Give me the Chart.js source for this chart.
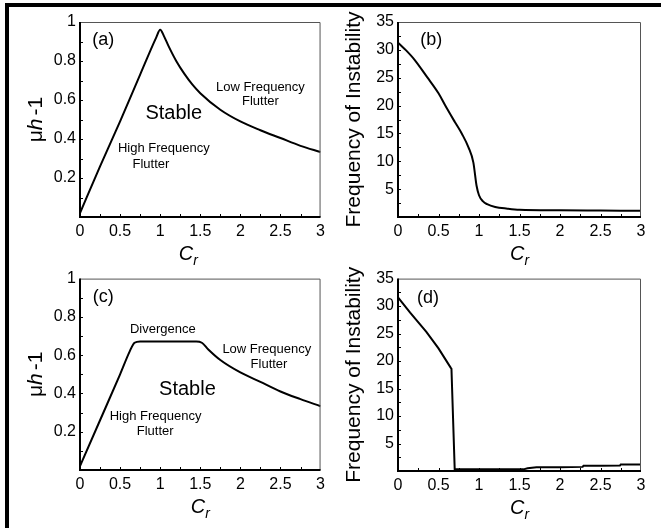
<!DOCTYPE html>
<html>
<head>
<meta charset="utf-8">
<script src="https://cdn.jsdelivr.net/npm/chart.js@4.4.1/dist/chart.umd.min.js"></script>
<style>
  body { margin: 0; background: #fff; width: 661px; height: 528px; overflow: hidden; position: relative; }
  canvas { position: absolute; }
  #frameL { position: absolute; left: 5px; top: 3px; width: 4px; height: 525px; background: #000; }
  #frameT { position: absolute; left: 5px; top: 3px; width: 656px; height: 4px; background: #000; }
</style>
</head>
<body>
<canvas id="pa" width="330" height="265" style="left:0;top:0"></canvas>
<canvas id="pb" width="331" height="265" style="left:330px;top:0"></canvas>
<canvas id="pc" width="330" height="263" style="left:0;top:265px"></canvas>
<canvas id="pd" width="331" height="263" style="left:330px;top:265px"></canvas>
<div id="frameL"></div><div id="frameT"></div>
<script>
const FONT = "'Liberation Sans', Arial, sans-serif";

// (a) stability boundary, uniform case
const crA = [0, 0.25, 0.5, 0.75, 0.95, 1.0, 1.05, 1.1, 1.2, 1.3, 1.4, 1.5, 1.75, 2.0, 2.25, 2.5, 2.75, 3.0];
const muA = [0.02, 0.26, 0.49, 0.73, 0.92, 0.96, 0.925, 0.88, 0.80, 0.735, 0.68, 0.635, 0.55, 0.49, 0.445, 0.405, 0.365, 0.333];

// (b) frequency of instability, uniform case
const crB = [0, 0.1, 0.2, 0.36, 0.5, 0.58, 0.7, 0.79, 0.87, 0.93, 0.97, 1.0, 1.05, 1.1, 1.2, 1.35, 1.5, 2.0, 2.5, 3.0];
const freqB = [31.3, 29.9, 28.3, 25.1, 22.2, 20.1, 17.1, 14.9, 12.5, 9.8, 5.6, 3.9, 2.8, 2.3, 1.8, 1.5, 1.3, 1.2, 1.15, 1.1];

// (c) stability boundary with divergence plateau
const crC = [0, 0.25, 0.5, 0.62, 0.68, 0.75, 1.0, 1.45, 1.52, 1.6, 1.75, 2.0, 2.25, 2.5, 2.75, 3.0];
const muC = [0.02, 0.26, 0.50, 0.62, 0.665, 0.672, 0.672, 0.672, 0.665, 0.63, 0.575, 0.51, 0.46, 0.41, 0.37, 0.333];

// (d) frequency of instability with divergence
const crD = [0, 0.15, 0.35, 0.5, 0.65, 0.66, 0.70, 1.0, 1.55, 1.6, 1.71, 2.0, 2.28, 2.29, 2.5, 2.74, 2.75, 3.0];
const freqD = [31.6, 28.8, 25.3, 22.3, 18.8, 18.6, 0.3, 0.3, 0.3, 0.5, 0.66, 0.7, 0.75, 0.95, 0.97, 1.0, 1.2, 1.2];

// tick setup
const xStep = 0.5, xMinor = 0.25;
const muStep = 0.2, muMinor = 0.1;
const freqStep = 5, freqMinor = 2.5;

// region labels (data coordinates)
const notesA = [
  { t: "(a)", x: 0.29, y: 0.91, s: 18 },
  { t: "Stable", x: 1.17, y: 0.53, s: 20 },
  { t: "Low Frequency", x: 2.25, y: 0.667, s: 13 },
  { t: "Flutter", x: 2.25, y: 0.592, s: 13 },
  { t: "High Frequency", x: 1.045, y: 0.351, s: 13 },
  { t: "Flutter", x: 0.885, y: 0.268, s: 13 }
];
const notesB = [{ t: "(b)", x: 0.41, y: 31.8, s: 18 }];
const notesC = [
  { t: "(c)", x: 0.29, y: 0.902, s: 18 },
  { t: "Divergence", x: 1.033, y: 0.737, s: 13 },
  { t: "Low Frequency", x: 2.33, y: 0.629, s: 13 },
  { t: "Flutter", x: 2.357, y: 0.554, s: 13 },
  { t: "Stable", x: 1.34, y: 0.423, s: 20 },
  { t: "High Frequency", x: 0.943, y: 0.278, s: 13 },
  { t: "Flutter", x: 0.937, y: 0.201, s: 13 }
];
const notesD = [{ t: "(d)", x: 0.37, y: 31.4, s: 18 }];

const muTitle = [
  { t: "\u03bc", f: "21px " + FONT },
  { t: "h", f: "italic 21px " + FONT },
  { t: "-1", f: "21px " + FONT, gap: 3 }
];
const freqTitle = [{ t: "Frequency of Instability", f: "21px " + FONT }];
const crTitle = [
  { t: "C", f: "italic 20px " + FONT },
  { t: "r", f: "italic 14px " + FONT, dy: 5 }
];

function drawRich(ctx, parts, cx, y) {
  let w = 0;
  parts.forEach(p => { ctx.font = p.f; w += ctx.measureText(p.t).width + (p.gap || 0); });
  let x = cx - w / 2;
  parts.forEach(p => {
    x += p.gap || 0;
    ctx.font = p.f;
    ctx.fillText(p.t, x, y + (p.dy || 0));
    x += ctx.measureText(p.t).width;
  });
}

function makePanel(id, xs, ys, yMax, yStep, yMinor, box, notes, yTitle, xShift, smooth) {
  const deco = {
    id: "deco",
    afterDraw(chart) {
      const ctx = chart.ctx, a = chart.chartArea;
      const sx = chart.scales.x, sy = chart.scales.y;
      ctx.save();
      // ticks pointing into the plot
      ctx.strokeStyle = "#000";
      ctx.lineWidth = 1;
      ctx.beginPath();
      for (let v = xMinor; v < 3 - 1e-6; v += xMinor) {
        const px = Math.round(sx.getPixelForValue(v)) + 0.5;
        ctx.moveTo(px, a.bottom);
        ctx.lineTo(px, a.bottom - 3);
      }
      for (let v = yMinor; v < yMax - 1e-6; v += yMinor) {
        const py = Math.round(sy.getPixelForValue(v)) + 0.5;
        ctx.moveTo(a.left, py);
        ctx.lineTo(a.left + 3, py);
      }
      ctx.stroke();
      // frame: thin grey top/right, heavy black left/bottom
      ctx.strokeStyle = "#555";
      ctx.lineWidth = 1;
      ctx.beginPath();
      ctx.moveTo(a.left, a.top + 0.5);
      ctx.lineTo(a.right - 0.5, a.top + 0.5);
      ctx.lineTo(a.right - 0.5, a.bottom);
      ctx.stroke();
      ctx.strokeStyle = "#000";
      ctx.lineWidth = 2;
      ctx.beginPath();
      ctx.moveTo(a.left, a.top);
      ctx.lineTo(a.left, a.bottom);
      ctx.lineTo(a.right, a.bottom);
      ctx.stroke();
      // region labels
      ctx.fillStyle = "#000";
      ctx.textAlign = "center";
      ctx.textBaseline = "middle";
      notes.forEach(n => {
        ctx.font = n.s + "px " + FONT;
        ctx.fillText(n.t, sx.getPixelForValue(n.x), sy.getPixelForValue(n.y));
      });
      // axis titles
      ctx.textAlign = "left";
      ctx.textBaseline = "alphabetic";
      drawRich(ctx, crTitle, (a.left + a.right) / 2 + xShift, a.bottom + 43);
      ctx.translate(a.left - 38, (a.top + a.bottom) / 2);
      ctx.rotate(-Math.PI / 2);
      drawRich(ctx, yTitle, 0, 0);
      ctx.restore();
    }
  };

  return new Chart(document.getElementById(id), {
    type: "line",
    data: {
      datasets: [{
        data: xs.map((x, i) => ({ x: x, y: ys[i] })),
        borderColor: "#000",
        borderWidth: 2,
        pointRadius: 0,
        cubicInterpolationMode: smooth ? "monotone" : "default",
        tension: 0,
        fill: false
      }]
    },
    options: {
      responsive: false,
      animation: false,
      events: [],
      layout: { autoPadding: false, padding: { top: box.top, right: box.right, left: 0, bottom: 0 } },
      plugins: { legend: { display: false }, tooltip: { enabled: false } },
      scales: {
        x: {
          type: "linear", min: 0, max: 3,
          grid: { display: false, drawTicks: false },
          border: { display: false },
          ticks: {
            stepSize: xStep, padding: 5, color: "#000", maxRotation: 0, autoSkip: false,
            font: { family: FONT, size: 16 },
            callback: v => String(+v.toFixed(2))
          },
          afterFit(s) { s.height = box.xh; }
        },
        y: {
          type: "linear", min: 0, max: yMax,
          grid: { display: false, drawTicks: false },
          border: { display: false },
          ticks: {
            stepSize: yStep, padding: 4, color: "#000", autoSkip: false,
            font: { family: FONT, size: 16 },
            callback: v => v === 0 ? "" : String(+v.toFixed(2))
          },
          afterFit(s) { s.width = box.yw; }
        }
      }
    },
    plugins: [deco]
  });
}

makePanel("pa", crA, muA, 1, muStep, muMinor, { top: 22, right: 6, yw: 80, xh: 48 }, notesA, muTitle, -12, true);
makePanel("pb", crB, freqB, 35, freqStep, freqMinor, { top: 22, right: 20, yw: 68, xh: 48 }, notesB, freqTitle, 0, true);
makePanel("pc", crC, muC, 1, muStep, muMinor, { top: 11, right: 6, yw: 80, xh: 58 }, notesC, muTitle, 0, true);
makePanel("pd", crD, freqD, 35, freqStep, freqMinor, { top: 10, right: 20, yw: 68, xh: 57 }, notesD, freqTitle, 0, false);
</script>
</body>
</html>
